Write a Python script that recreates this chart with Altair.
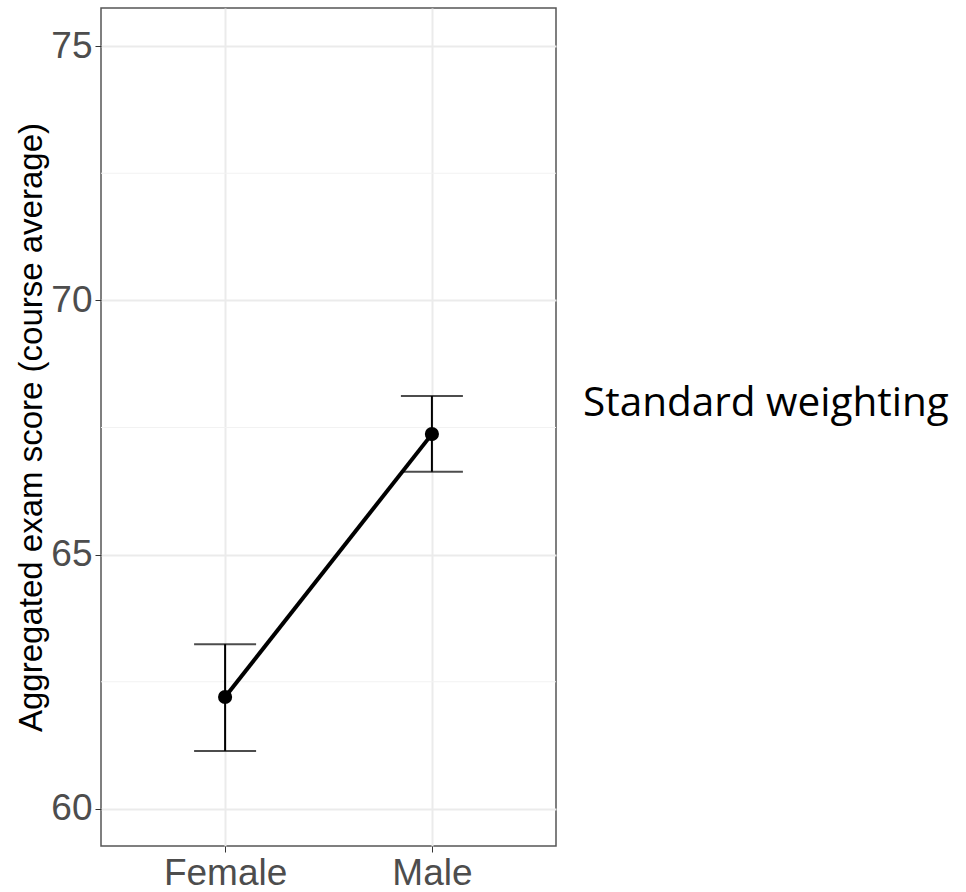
import altair as alt
import pandas as pd

groups = ["Female", "Male"]
means = [62.2, 67.37]
lower = [61.14, 66.63]
upper = [63.24, 68.12]
major_ticks = [60, 65, 70, 75]
minor_ticks = [62.5, 67.5, 72.5]
label_text = ["Standard weighting"]

df = pd.DataFrame({"group": groups, "mean": means, "lo": lower, "hi": upper})
minor_df = pd.DataFrame({"v": minor_ticks})
lab_df = pd.DataFrame({"t": label_text})

W, H = 455, 838
ydom = [59.27, 75.75]

xenc = alt.X("group:N", title=None, sort=groups,
             scale=alt.Scale(type="point", padding=0.6),
             axis=alt.Axis(labelAngle=0, labelFontSize=37, labelColor="#4D4D4D",
                           labelFont="Liberation Sans", tickColor="#333333",
                           tickSize=6, labelPadding=3, grid=True,
                           gridColor="#EBEBEB", gridWidth=2, domain=False))
yscale = alt.Scale(domain=ydom, nice=False, zero=False)
yenc = alt.Y("mean:Q", title="Aggregated exam score (course average)", scale=yscale,
             axis=alt.Axis(values=major_ticks, labelFontSize=37, labelColor="#4D4D4D",
                           labelFont="Liberation Sans", tickColor="#333333",
                           tickSize=6, labelPadding=3, grid=True,
                           gridColor="#EBEBEB", gridWidth=2, domain=False,
                           titleFont="Liberation Sans", titleFontSize=33,
                           titleFontWeight="normal", titleColor="#000000",
                           titlePadding=2))

base = alt.Chart(df)

minor = alt.Chart(minor_df).mark_rule(color="#F2F2F2", strokeWidth=1.2).encode(
    y=alt.Y("v:Q", scale=yscale)
)
rules = base.mark_rule(color="black", strokeWidth=2).encode(
    x=xenc, y=alt.Y("lo:Q", scale=yscale), y2="hi:Q"
)
cap_lo = base.mark_tick(color="black", thickness=2, size=62, orient="horizontal").encode(
    x=xenc, y=alt.Y("lo:Q", scale=yscale)
)
cap_hi = base.mark_tick(color="black", thickness=2, size=62, orient="horizontal").encode(
    x=xenc, y=alt.Y("hi:Q", scale=yscale)
)
line = base.mark_line(color="black", strokeWidth=4).encode(x=xenc, y=yenc)
pts = base.mark_point(filled=True, color="black", size=200, opacity=1).encode(x=xenc, y=yenc)
label = alt.Chart(lab_df).mark_text(
    align="left", baseline="alphabetic", font="Open Sans", fontSize=40.5, color="black"
).encode(text="t:N", x=alt.value(482), y=alt.value(408))

chart = alt.layer(minor, line, rules, cap_lo, cap_hi, pts, label).properties(
    width=W, height=H,
    background="white",
    padding={"left": 101, "top": 8, "right": 410, "bottom": 46},
    autosize=alt.AutoSizeParams(type="none"),
).configure_view(stroke="#555555", strokeWidth=1.5)

chart.save("out.html", embed_options={"renderer": "svg", "actions": False})
